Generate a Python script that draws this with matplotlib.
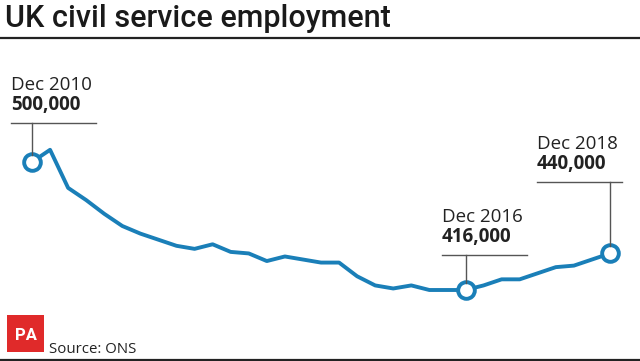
import matplotlib
matplotlib.use("Agg")
import matplotlib.pyplot as plt
from matplotlib.lines import Line2D
from matplotlib.patches import Rectangle

# ---- data (thousands, quarterly Dec 2010 .. Dec 2018) ----
quarters = list(range(33))
employment = [500, 508, 483, 475, 466, 458, 453, 449, 445, 443, 446, 441,
              440, 435, 438, 436, 434, 434, 425, 419, 417, 419, 416, 416,
              416, 419, 423, 423, 427, 431, 432, 436, 440]
callout_idx = [0, 24, 32]
callout_dates = ["Dec 2010", "Dec 2016", "Dec 2018"]
callout_values = ["500,000", "416,000", "440,000"]
title = "UK civil service employment"
source = "Source: ONS"

W, H = 640, 361
BLUE = "#1a7fb8"
GREY = "#555555"

fig = plt.figure(figsize=(W / 100, H / 100), dpi=100)
fig.patch.set_facecolor("white")

def fy(y_top):
    return (H - y_top) / H

def fx(x):
    return x / W

ax = fig.add_axes([fx(32), fy(290), fx(610 - 32), (290 - 162) / H])
ax.set_xlim(0, 32)
ax.set_ylim(416, 500)
ax.axis("off")
ax.plot(quarters, employment, color=BLUE, lw=2.8, solid_joinstyle="round",
        solid_capstyle="round", clip_on=False, zorder=2)
ax.plot([quarters[i] for i in callout_idx], [employment[i] for i in callout_idx],
        ls="none", marker="o", ms=12, mfc="white", mec=BLUE, mew=2.8,
        clip_on=False, zorder=3)

fig.canvas.draw()
# callout layout (text left x, hline y in px from top)
layout = [(11, 123), (442, 255), (537, 182)]
for (i, date, val, (tx, hy)) in zip(callout_idx, callout_dates, callout_values, layout):
    px, py = ax.transData.transform((quarters[i], employment[i]))
    fig.add_artist(Line2D([fx(tx), fx(tx + 85)], [fy(hy), fy(hy)],
                          transform=fig.transFigure, color=GREY, lw=1.0))
    fig.add_artist(Line2D([px / W, px / W], [fy(hy), (py + 7.5) / H],
                          transform=fig.transFigure, color=GREY, lw=1.0))
    fig.text(fx(tx), fy(hy - 33), date, fontsize=13.5, family="Open Sans",
             color="#222222", va="baseline", ha="left")
    fig.text(fx(tx), fy(hy - 13), val, fontsize=13.5, family="Open Sans",
             fontweight="bold", color="#222222", va="baseline", ha="left")

# title and rules
fig.text(fx(5), fy(27), title, fontsize=22, family="Roboto", fontweight="medium",
         color="#1a1a1a", va="baseline", ha="left")
fig.add_artist(Line2D([0, 1], [fy(38), fy(38)], transform=fig.transFigure,
                      color="#222222", lw=1.6))
fig.add_artist(Line2D([0, 1], [fy(359.5), fy(359.5)], transform=fig.transFigure,
                      color="#222222", lw=1.6))

# PA logo and source
fig.add_artist(Rectangle((fx(7), fy(352)), fx(37), 37 / H, transform=fig.transFigure,
                         facecolor="#e02a2a", edgecolor="none"))
fig.text(fx(26), fy(335), "PA", fontsize=12, family="Roboto", fontweight="bold",
         color="white", ha="center", va="center")
fig.text(fx(49), fy(353), source, fontsize=10.8, family="Open Sans",
         color="#222222", va="baseline", ha="left")

fig.savefig("out.png", dpi=100, facecolor="white")
